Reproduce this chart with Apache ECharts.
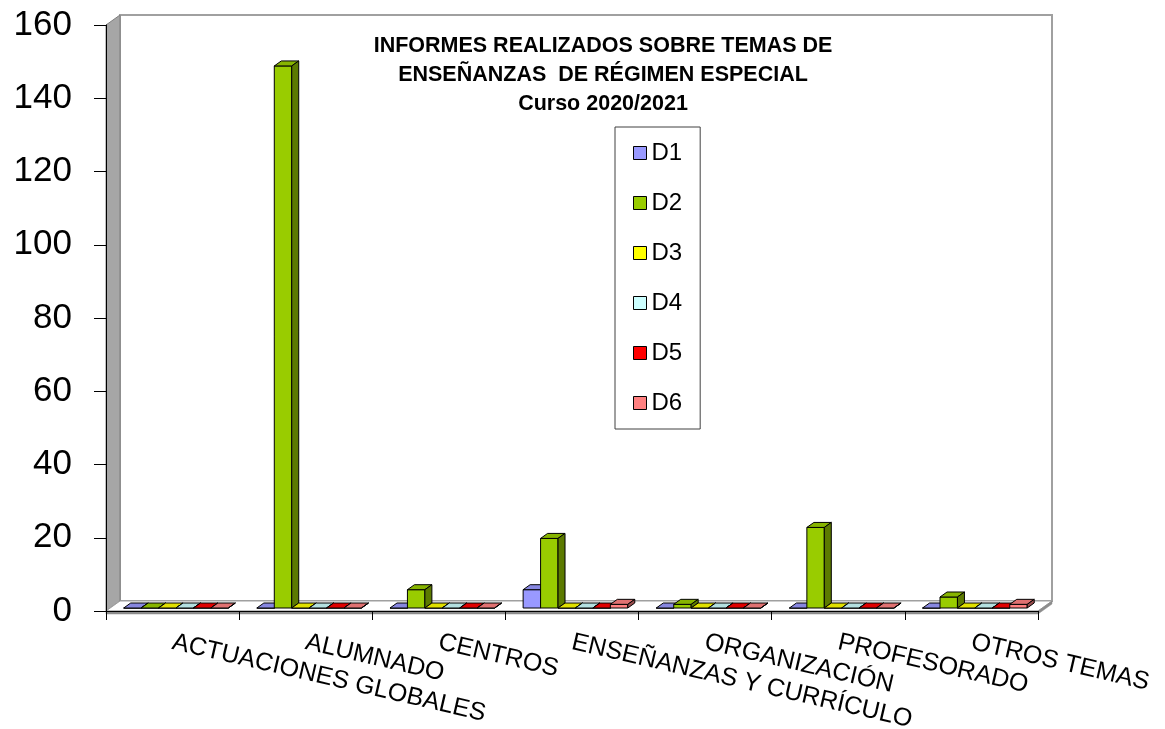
<!DOCTYPE html>
<html>
<head>
<meta charset="utf-8">
<script src="https://cdn.jsdelivr.net/npm/echarts@6/dist/echarts.min.js"></script>
<style>
  html, body { margin: 0; padding: 0; background: #fff; }
  #chart { width: 1165px; height: 729px; }
</style>
</head>
<body>
<div id="chart"></div>
<script>
const FONT = "'Liberation Sans', Arial, sans-serif";

// Categories (x axis)
const categories = [
  'ACTUACIONES GLOBALES',
  'ALUMNADO',
  'CENTROS',
  'ENSEÑANZAS Y CURRÍCULO',
  'ORGANIZACIÓN',
  'PROFESORADO',
  'OTROS TEMAS'
];

// Series
const seriesNames = ['D1', 'D2', 'D3', 'D4', 'D5', 'D6'];
const seriesColors = ['#9999ff', '#99cc00', '#ffff00', '#ccffff', '#ff0000', '#ff8080'];
const d1 = [0, 0, 0, 5, 0, 0, 0];
const d2 = [0, 148, 5, 19, 1, 22, 3];
const d3 = [0, 0, 0, 0, 0, 0, 0];
const d4 = [0, 0, 0, 0, 0, 0, 0];
const d5 = [0, 0, 0, 0, 0, 0, 0];
const d6 = [0, 0, 0, 1, 0, 0, 1];
const seriesValues = [d1, d2, d3, d4, d5, d6];

// y axis
const yMin = 0, yMax = 160, yStep = 20;

// fake 3d depth
const WALL_DX = 14, WALL_DY = -10;
const BAR_DX = 7, BAR_DY = -5, BAR_LIFT = 3;

function shade(hex, f) {
  const n = parseInt(hex.slice(1), 16);
  const r = Math.round(((n >> 16) & 255) * f);
  const g = Math.round(((n >> 8) & 255) * f);
  const b = Math.round((n & 255) * f);
  return 'rgb(' + r + ',' + g + ',' + b + ')';
}

function renderWalls(params, api) {
  const c = params.coordSys;
  const x1 = c.x, y1 = c.y, x2 = c.x + c.width, y2 = c.y + c.height;
  return {
    type: 'group',
    children: [
      { // back wall
        type: 'rect',
        shape: { x: x1 + WALL_DX, y: y1 + WALL_DY, width: c.width, height: c.height },
        style: { fill: '#fff', stroke: '#a0a0a0', lineWidth: 2 }
      },
      { // left wall
        type: 'polygon',
        shape: { points: [[x1, y1], [x1 + WALL_DX, y1 + WALL_DY], [x1 + WALL_DX, y2 + WALL_DY], [x1, y2]] },
        style: { fill: '#a6a6a6', stroke: '#7f7f7f', lineWidth: 1 }
      },
      { // floor
        type: 'polygon',
        shape: { points: [[x1, y2], [x1 + WALL_DX, y2 + WALL_DY], [x2 + WALL_DX, y2 + WALL_DY], [x2, y2]] },
        style: { fill: '#fff', stroke: '#a0a0a0', lineWidth: 1 }
      },
      { // floor thickness
        type: 'polygon',
        shape: { points: [[x1, y2], [x2, y2], [x2 + WALL_DX, y2 + WALL_DY], [x2 + WALL_DX, y2 + WALL_DY + 3], [x2, y2 + 3], [x1, y2 + 3]] },
        style: { fill: '#8c8c8c', stroke: '#8c8c8c', lineWidth: 0.5 }
      }
    ]
  };
}

function makeBarRenderer(k, color) {
  const topColor = shade(color, 0.88);
  const sideColor = shade(color, 0.6);
  return function (params, api) {
    const i = api.value(0);
    const v = api.value(1);
    const base = api.coord([i, 0]);
    const top = api.coord([i, v]);
    const band = api.size([1, 0])[0];
    const bw = band * 0.131;
    const x0 = base[0] - band * 0.367 + k * bw;
    const yb = base[1] - BAR_LIFT;
    const yt = top[1] - BAR_LIFT;
    const line = { stroke: '#000', lineWidth: 1 };
    return {
      type: 'group',
      children: [
        {
          type: 'rect',
          shape: { x: x0, y: yt, width: bw, height: yb - yt },
          style: Object.assign({ fill: color }, line)
        },
        {
          type: 'polygon',
          shape: { points: [[x0, yt], [x0 + BAR_DX, yt + BAR_DY], [x0 + bw + BAR_DX, yt + BAR_DY], [x0 + bw, yt]] },
          style: Object.assign({ fill: topColor }, line)
        },
        {
          type: 'polygon',
          shape: { points: [[x0 + bw, yt], [x0 + bw + BAR_DX, yt + BAR_DY], [x0 + bw + BAR_DX, yb + BAR_DY], [x0 + bw, yb]] },
          style: Object.assign({ fill: sideColor }, line)
        }
      ]
    };
  };
}

const chart = echarts.init(document.getElementById('chart'), null, { renderer: 'canvas' });

const series = [{
  name: 'walls',
  type: 'custom',
  z: 1,
  silent: true,
  renderItem: renderWalls,
  data: [[0, 0]]
}];
seriesNames.forEach(function (name, k) {
  series.push({
    name: name,
    type: 'custom',
    z: 2,
    itemStyle: { color: seriesColors[k] },
    renderItem: makeBarRenderer(k, seriesColors[k]),
    data: seriesValues[k].map(function (v, i) { return [i, v]; })
  });
});

chart.setOption({
  backgroundColor: '#fff',
  animation: false,
  title: {
    text: 'INFORMES REALIZADOS SOBRE TEMAS DE\nENSEÑANZAS  DE RÉGIMEN ESPECIAL\nCurso 2020/2021',
    left: 598,
    top: 27,
    textAlign: 'center',
    textStyle: {
      fontFamily: FONT,
      fontSize: 21.5,
      fontWeight: 'bold',
      color: '#000',
      lineHeight: 29
    }
  },
  legend: {
    data: seriesNames,
    orient: 'vertical',
    left: 615,
    top: 127,
    padding: [14, 18, 14, 18],
    itemGap: 26,
    itemWidth: 13,
    itemHeight: 13,
    icon: 'rect',
    backgroundColor: '#fff',
    borderColor: '#404040',
    borderWidth: 1,
    itemStyle: { borderColor: '#000', borderWidth: 1 },
    textStyle: { fontFamily: FONT, fontSize: 24, color: '#000', lineHeight: 22 }
  },
  grid: {
    left: 106,
    right: 127,
    top: 25,
    bottom: 118,
    containLabel: false,
    outerBoundsMode: 'none'
  },
  xAxis: {
    type: 'category',
    data: categories,
    z: 3,
    axisLine: { lineStyle: { color: '#000', width: 1 } },
    axisTick: { show: true, length: 9, lineStyle: { color: '#000' } },
    axisLabel: {
      interval: 0,
      rotate: -13,
      margin: 31,
      fontFamily: FONT,
      fontSize: 25,
      color: '#000'
    },
    splitLine: { show: false }
  },
  yAxis: {
    type: 'value',
    min: yMin,
    max: yMax,
    interval: yStep,
    z: 3,
    axisLine: { show: true, lineStyle: { color: '#000', width: 1 } },
    axisTick: { show: true, length: 12, lineStyle: { color: '#000' } },
    axisLabel: {
      margin: 34,
      fontFamily: FONT,
      fontSize: 35,
      color: '#000'
    },
    splitLine: { show: false }
  },
  series: series
});
</script>
</body>
</html>
